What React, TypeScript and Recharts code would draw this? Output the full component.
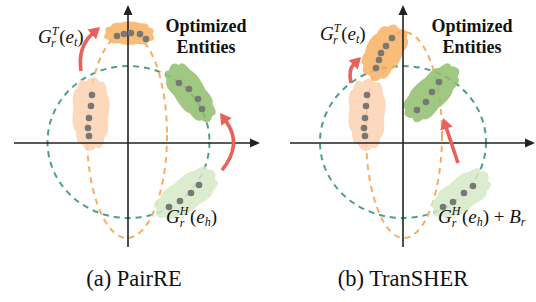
import React from 'react';
import { ScatterChart, Scatter, XAxis, YAxis } from 'recharts';

type Pt = { x: number; y: number };

const pairXDomain: [number, number] = [-3.2, 3.5];
const transXDomain: [number, number] = [-3.375, 3.325];
const yDomain: [number, number] = [-4.184, 3.763];

const captions = ['(a) PairRE', '(b) TranSHER'];
const optimizedText = ['Optimized', 'Entities'];

const pairHeadRing = { cx: 0.0125, cy: 0.026, rx: 2.025, ry: 2.0 };
const pairTailRing = { cx: -0.025, cy: 0.21, rx: 1.0, ry: 2.71 };
const pairTailOptDots: Pt[] = [
  { x: -0.275, y: 2.816 }, { x: -0.1, y: 2.868 }, { x: 0.075, y: 2.895 }, { x: 0.3, y: 2.868 }, { x: 0.45, y: 2.737 },
];
const pairTailDots: Pt[] = [
  { x: -0.9, y: 1.263 }, { x: -0.925, y: 0.974 }, { x: -0.975, y: 0.658 }, { x: -1.0, y: 0.395 }, { x: -0.975, y: 0.184 },
];
const pairHeadOptDots: Pt[] = [
  { x: 1.275, y: 1.579 }, { x: 1.525, y: 1.421 }, { x: 1.75, y: 1.158 }, { x: 1.85, y: 0.895 },
];
const pairHeadDots: Pt[] = [
  { x: 1.025, y: -1.684 }, { x: 1.3, y: -1.526 }, { x: 1.575, y: -1.316 }, { x: 1.775, y: -1.105 },
];
const pairTailOptBlob: Pt[] = [{ x: -0.58, y: 2.895 }, { x: 0.65, y: 2.868 }, { x: 0.05, y: 3.18 }];
const pairTailBlob: Pt[] = [{ x: -0.925, y: 1.72 }, { x: -0.925, y: -0.16 }, { x: -1.38, y: 0.789 }];
const pairHeadOptBlob: Pt[] = [{ x: 1.05, y: 2.03 }, { x: 2.05, y: 0.63 }, { x: 1.85, y: 1.58 }];
const pairHeadBlob: Pt[] = [{ x: 0.75, y: -1.87 }, { x: 2.18, y: -0.8 }, { x: 1.7, y: -1.69 }];
const pairArrowTail: Pt[] = [{ x: -1.175, y: 1.895 }, { x: -1.1, y: 2.5 }, { x: -0.7, y: 3.053 }];
const pairArrowHead: Pt[] = [{ x: 2.35, y: -0.711 }, { x: 2.6, y: 0 }, { x: 2.3, y: 0.789 }];
const pairAxisX: Pt[] = [{ x: -2.85, y: 0 }, { x: 3.3, y: 0 }];
const pairAxisY: Pt[] = [{ x: 0, y: -2.737 }, { x: 0, y: 3.63 }];
const pairLabels = [
  { x: -2.25, y: 2.632, kind: 'GT' },
  { x: 1.95, y: 2.921, kind: 'opt0' },
  { x: 1.95, y: 2.368, kind: 'opt1' },
  { x: 0.95, y: -2.105, kind: 'GH' },
  { x: 0.15, y: -3.763, kind: 'cap0' },
];

const transHeadRing = { cx: 0, cy: 0.026, rx: 2.075, ry: 2.0 };
const transTailRing = { cx: 0.025, cy: 0.21, rx: 0.95, ry: 2.71 };
const transTailOptDots: Pt[] = [
  { x: -0.275, y: 2.763 }, { x: -0.425, y: 2.553 }, { x: -0.55, y: 2.368 }, { x: -0.6, y: 2.184 }, { x: -0.675, y: 1.974 },
];
const transTailDots: Pt[] = [
  { x: -0.9, y: 1.263 }, { x: -0.925, y: 0.974 }, { x: -0.95, y: 0.658 }, { x: -0.975, y: 0.395 }, { x: -0.95, y: 0.184 },
];
const transHeadOptDots: Pt[] = [
  { x: 0.35, y: 0.868 }, { x: 0.575, y: 1.079 }, { x: 0.725, y: 1.342 }, { x: 0.9, y: 1.605 },
];
const transHeadDots: Pt[] = [
  { x: 1.0, y: -1.684 }, { x: 1.25, y: -1.553 }, { x: 1.525, y: -1.316 }, { x: 1.75, y: -1.132 },
];
const transTailOptBlob: Pt[] = [{ x: -0.85, y: 1.74 }, { x: -0.08, y: 3.05 }, { x: -0.08, y: 2.17 }];
const transTailBlob: Pt[] = [{ x: -0.9, y: 1.7 }, { x: -0.9, y: -0.16 }, { x: -1.355, y: 0.789 }];
const transHeadOptBlob: Pt[] = [{ x: 0.12, y: 0.66 }, { x: 1.3, y: 1.97 }, { x: 1.01, y: 1.03 }];
const transHeadBlob: Pt[] = [{ x: 0.8, y: -1.84 }, { x: 2.13, y: -0.85 }, { x: 1.7, y: -1.69 }];
const transArrowTail: Pt[] = [{ x: -1.3, y: 1.579 }, { x: -1.275, y: 1.921 }, { x: -1.05, y: 2.263 }];
const transArrowHead: Pt[] = [{ x: 1.375, y: -0.526 }, { x: 1.0, y: 0.658 }];
const transAxisX: Pt[] = [{ x: -2.825, y: 0 }, { x: 3.3, y: 0 }];
const transAxisY: Pt[] = [{ x: 0, y: -2.737 }, { x: 0, y: 3.63 }];
const transLabels = [
  { x: -2.075, y: 2.711, kind: 'GT' },
  { x: 1.725, y: 2.921, kind: 'opt0' },
  { x: 1.725, y: 2.368, kind: 'opt1' },
  { x: 0.875, y: -2.105, kind: 'GHB' },
  { x: 0.0, y: -3.763, kind: 'cap1' },
];

const TEAL = '#4e9d8d';
const ORANGE_LINE = '#f7ae62';
const ORANGE = '#f9b062';
const PEACH = '#fbd1b0';
const GREEN = '#91be6c';
const LIGHT_GREEN = '#d5eac5';
const DOT = '#777777';
const RED = '#e8625b';
const SERIF = '"Liberation Serif", serif';

const hidden = () => <g />;

const ringPoints = (r: { cx: number; cy: number; rx: number; ry: number }): Pt[] => [
  { x: r.cx + r.rx, y: r.cy },
  { x: r.cx, y: r.cy + r.ry },
  { x: r.cx - r.rx, y: r.cy },
  { x: r.cx, y: r.cy - r.ry },
];

const ringLine = (color: string) => (lp: any) => {
  const p = lp.points;
  if (!p || p.length < 4) return <g />;
  const cx = (p[0].x + p[2].x) / 2;
  const cy = (p[1].y + p[3].y) / 2;
  const rx = Math.abs(p[0].x - p[2].x) / 2;
  const ry = Math.abs(p[3].y - p[1].y) / 2;
  return <ellipse cx={cx} cy={cy} rx={rx} ry={ry} fill="none" stroke={color} strokeWidth={2} strokeDasharray="6 5" />;
};

const blobLine = (color: string, seed: number) => (lp: any) => {
  const p = lp.points;
  if (!p || p.length < 3) return <g />;
  const [a, b, c] = p;
  const cx = (a.x + b.x) / 2;
  const cy = (a.y + b.y) / 2;
  const dx = b.x - a.x;
  const dy = b.y - a.y;
  const len = Math.hypot(dx, dy);
  const rx = len / 2;
  const ry = Math.abs(dx * (c.y - a.y) - dy * (c.x - a.x)) / len;
  const ang = Math.atan2(dy, dx);
  const n = 96;
  let d = '';
  for (let i = 0; i <= n; i++) {
    const t = (2 * Math.PI * i) / n;
    const bump = Math.abs(Math.sin(5 * t + seed));
    const s = 0.94 + 0.09 * bump + 0.03 * Math.sin(3 * t + 2 * seed);
    const ct = Math.cos(t);
    const st = Math.sin(t);
    const ex = rx * Math.sign(ct) * Math.pow(Math.abs(ct), 0.8) * s;
    const ey = ry * Math.sign(st) * Math.pow(Math.abs(st), 0.8) * s;
    const px = cx + ex * Math.cos(ang) - ey * Math.sin(ang);
    const py = cy + ex * Math.sin(ang) + ey * Math.cos(ang);
    d += (i === 0 ? 'M' : 'L') + px.toFixed(2) + ',' + py.toFixed(2);
  }
  return <path d={d + 'Z'} fill={color} fillOpacity={0.85} stroke="none" />;
};

const arrowLine = (color: string, width: number, headLen: number, headHalf: number) => (lp: any) => {
  const p = lp.points;
  if (!p || p.length < 2) return <g />;
  const s = p[0];
  const e = p[p.length - 1];
  let q = { x: (s.x + e.x) / 2, y: (s.y + e.y) / 2 };
  if (p.length === 3) {
    q = { x: 2 * p[1].x - (s.x + e.x) / 2, y: 2 * p[1].y - (s.y + e.y) / 2 };
  }
  const ux0 = e.x - q.x;
  const uy0 = e.y - q.y;
  const ul = Math.hypot(ux0, uy0);
  const ux = ux0 / ul;
  const uy = uy0 / ul;
  const bx = e.x - ux * headLen;
  const by = e.y - uy * headLen;
  const body = p.length === 3
    ? `M${s.x},${s.y} Q${q.x},${q.y} ${bx + ux * 1},${by + uy * 1}`
    : `M${s.x},${s.y} L${bx + ux * 1},${by + uy * 1}`;
  const head = `M${e.x},${e.y} L${bx - uy * headHalf},${by + ux * headHalf} L${bx + uy * headHalf},${by - ux * headHalf} Z`;
  return (
    <g>
      <path d={body} fill="none" stroke={color} strokeWidth={width} />
      <path d={head} fill={color} stroke="none" />
    </g>
  );
};

const dotShape = (props: any) => <circle cx={props.cx} cy={props.cy} r={3.3} fill={DOT} />;

const SUB = 12;

const labelShape = (props: any) => {
  const { cx, cy, payload } = props;
  const kind = payload.kind;
  if (kind === 'opt0' || kind === 'opt1') {
    return (
      <text x={cx} y={cy} textAnchor="middle" fontFamily={SERIF} fontWeight="bold" fontSize={18} fill="#111">
        {optimizedText[kind === 'opt0' ? 0 : 1]}
      </text>
    );
  }
  if (kind === 'cap0' || kind === 'cap1') {
    return (
      <text x={cx} y={cy} textAnchor="middle" fontFamily={SERIF} fontSize={22.5} fill="#111">
        {captions[kind === 'cap0' ? 0 : 1]}
      </text>
    );
  }
  const sup = kind === 'GT' ? 'T' : 'H';
  const supW = kind === 'GT' ? 6.7 : 8.7;
  const sub = kind === 'GT' ? 't' : 'h';
  return (
    <text x={cx} y={cy} fontFamily={SERIF} fontSize={19} fill="#111">
      <tspan fontStyle="italic">G</tspan>
      <tspan fontStyle="italic" fontSize={SUB} dy={-8}>{sup}</tspan>
      <tspan fontStyle="italic" fontSize={SUB} dx={-supW} dy={12}>r</tspan>
      <tspan dx={supW - 4.7 + 1.5} dy={-4}>(</tspan>
      <tspan fontStyle="italic">e</tspan>
      <tspan fontStyle="italic" fontSize={SUB} dy={3}>{sub}</tspan>
      <tspan dy={-3}>)</tspan>
      {kind === 'GHB' ? (
        <>
          <tspan> + </tspan>
          <tspan fontStyle="italic">B</tspan>
          <tspan fontStyle="italic" fontSize={SUB} dy={3}>r</tspan>
        </>
      ) : null}
    </text>
  );
};

type PanelProps = {
  xDomain: [number, number];
  headRing: any;
  tailRing: any;
  blobs: { pts: Pt[]; color: string; seed: number }[];
  dots: Pt[][];
  arrows: Pt[][];
  axes: Pt[][];
  labels: any[];
};

function Panel(props: PanelProps) {
  const { xDomain, headRing, tailRing, blobs, dots, arrows, axes, labels } = props;
  return (
    <ScatterChart width={268} height={302} margin={{ top: 0, right: 0, bottom: 0, left: 0 }}>
      <XAxis type="number" dataKey="x" domain={xDomain} hide allowDataOverflow />
      <YAxis type="number" dataKey="y" domain={yDomain} hide allowDataOverflow />
      <Scatter data={ringPoints(headRing)} shape={hidden} line={ringLine(TEAL)} lineType="joint" isAnimationActive={false} />
      <Scatter data={ringPoints(tailRing)} shape={hidden} line={ringLine(ORANGE_LINE)} lineType="joint" isAnimationActive={false} />
      {blobs.map((b, i) => (
        <Scatter key={'b' + i} data={b.pts} shape={hidden} line={blobLine(b.color, b.seed)} lineType="joint" isAnimationActive={false} />
      ))}
      {axes.map((a, i) => (
        <Scatter key={'a' + i} data={a} shape={hidden} line={arrowLine('#222', 1.6, 10, 4.5)} lineType="joint" isAnimationActive={false} />
      ))}
      {dots.map((d, i) => (
        <Scatter key={'d' + i} data={d} shape={dotShape} isAnimationActive={false} />
      ))}
      {arrows.map((a, i) => (
        <Scatter key={'r' + i} data={a} shape={hidden} line={arrowLine(RED, 3.6, 11, 6.5)} lineType="joint" isAnimationActive={false} />
      ))}
      <Scatter data={labels} shape={labelShape} isAnimationActive={false} />
    </ScatterChart>
  );
}

export default function App() {
  return (
    <div style={{ position: 'absolute', left: 0, top: 0, width: 536, height: 302, background: '#fff', display: 'flex' }}>
      <Panel
        xDomain={pairXDomain}
        headRing={pairHeadRing}
        tailRing={pairTailRing}
        blobs={[
          { pts: pairTailBlob, color: PEACH, seed: 1 },
          { pts: pairHeadBlob, color: LIGHT_GREEN, seed: 2 },
          { pts: pairTailOptBlob, color: ORANGE, seed: 3 },
          { pts: pairHeadOptBlob, color: GREEN, seed: 4 },
        ]}
        dots={[pairTailOptDots, pairTailDots, pairHeadOptDots, pairHeadDots]}
        arrows={[pairArrowTail, pairArrowHead]}
        axes={[pairAxisX, pairAxisY]}
        labels={pairLabels}
      />
      <Panel
        xDomain={transXDomain}
        headRing={transHeadRing}
        tailRing={transTailRing}
        blobs={[
          { pts: transTailBlob, color: PEACH, seed: 1 },
          { pts: transHeadBlob, color: LIGHT_GREEN, seed: 2 },
          { pts: transTailOptBlob, color: ORANGE, seed: 3 },
          { pts: transHeadOptBlob, color: GREEN, seed: 4 },
        ]}
        dots={[transTailOptDots, transTailDots, transHeadOptDots, transHeadDots]}
        arrows={[transArrowTail, transArrowHead]}
        axes={[transAxisX, transAxisY]}
        labels={transLabels}
      />
    </div>
  );
}
